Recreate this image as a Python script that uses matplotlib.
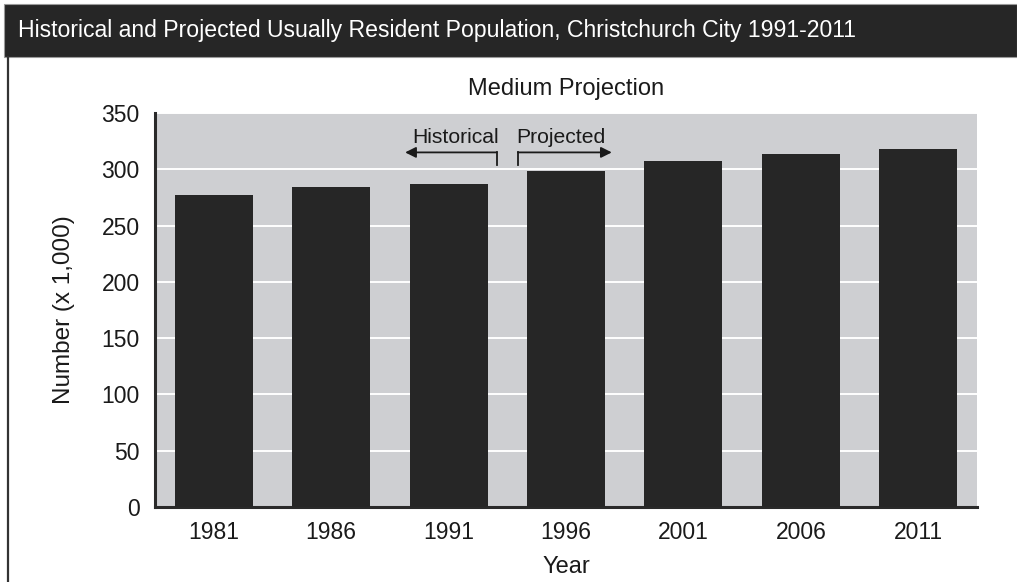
"""
Usually resident population of Christchurch City, historical and projected
(medium projection), drawn as a bar chart with a dark header band.
"""

import matplotlib.pyplot as plt
from matplotlib.patches import Rectangle
from matplotlib.lines import Line2D

years = ["1981", "1986", "1991", "1996", "2001", "2006", "2011"]
population = [277, 284, 287, 298.5, 307.5, 314, 318]   # thousands
y_ticks = [0, 50, 100, 150, 200, 250, 300, 350]

header_title = ("Historical and Projected Usually Resident Population, "
                "Christchurch City 1991-2011")
chart_title = "Medium Projection"

BAR_COLOR = "#262626"
PANEL_COLOR = "#cecfd2"
TEXT_COLOR = "#1a1a1a"

plt.rcParams["font.family"] = ["Liberation Sans", "DejaVu Sans"]

fig = plt.figure(figsize=(10.17, 5.82), dpi=100)
W, H = 1017, 582

# Header band and left frame line
fig.patches.append(Rectangle((4 / W, 1 - 57 / H), 1 - 4 / W, 53 / H,
                             transform=fig.transFigure, facecolor=BAR_COLOR,
                             edgecolor="#9a9a9a", linewidth=0.8, zorder=0))
fig.lines.append(Line2D([8 / W, 8 / W], [0, 1 - 57 / H],
                        transform=fig.transFigure, color="#333333",
                        linewidth=1.6))
fig.text(18 / W, 1 - 31 / H, header_title, color="white", fontsize=16.6,
         ha="left", va="center")

ax = fig.add_axes([155 / W, 1 - 507 / H, 822 / W, 394 / H])
ax.set_facecolor(PANEL_COLOR)

x = range(len(years))
ax.bar(x, population, width=0.665, color=BAR_COLOR, zorder=3)

ax.set_xlim(-0.5, len(years) - 0.5)
ax.set_ylim(0, 350)
ax.set_yticks(y_ticks)
ax.set_xticks(list(x))
ax.set_xticklabels(years)
ax.yaxis.grid(True, color="white", linewidth=1.4, zorder=1)
ax.set_axisbelow(True)

for side in ("top", "right"):
    ax.spines[side].set_visible(False)
for side in ("left", "bottom"):
    ax.spines[side].set_color("#2a2a2a")
    ax.spines[side].set_linewidth(2.2)

ax.tick_params(axis="both", length=0, labelsize=16.5, colors=TEXT_COLOR)
ax.tick_params(axis="y", pad=11)
ax.tick_params(axis="x", pad=10)

ax.set_title(chart_title, fontsize=17, color=TEXT_COLOR, pad=13)
ax.set_ylabel("Number (x 1,000)", fontsize=17.5, color=TEXT_COLOR, labelpad=19)
ax.set_xlabel("Year", fontsize=17, color=TEXT_COLOR, labelpad=9)

# Historical / projected split between 1991 and 1996
split = 2.5
arrow_style = dict(arrowstyle="-|>", color=TEXT_COLOR, linewidth=1.3,
                   mutation_scale=16, shrinkA=0, shrinkB=0)
ax.plot([split - 0.09, split - 0.09], [303.5, 315], color=TEXT_COLOR,
        linewidth=1.3, zorder=4)
ax.annotate("", xy=(1.63, 315), xytext=(split - 0.09, 315),
            arrowprops=arrow_style, zorder=4)
ax.plot([split + 0.09, split + 0.09], [303.5, 315], color=TEXT_COLOR,
        linewidth=1.3, zorder=4)
ax.annotate("", xy=(3.39, 315), xytext=(split + 0.09, 315),
            arrowprops=arrow_style, zorder=4)
ax.text(2.06, 328, "Historical", fontsize=15.2, color=TEXT_COLOR,
        ha="center", va="center", zorder=4)
ax.text(2.96, 328, "Projected", fontsize=15.2, color=TEXT_COLOR,
        ha="center", va="center", zorder=4)

fig.savefig("out.png", dpi=100)
